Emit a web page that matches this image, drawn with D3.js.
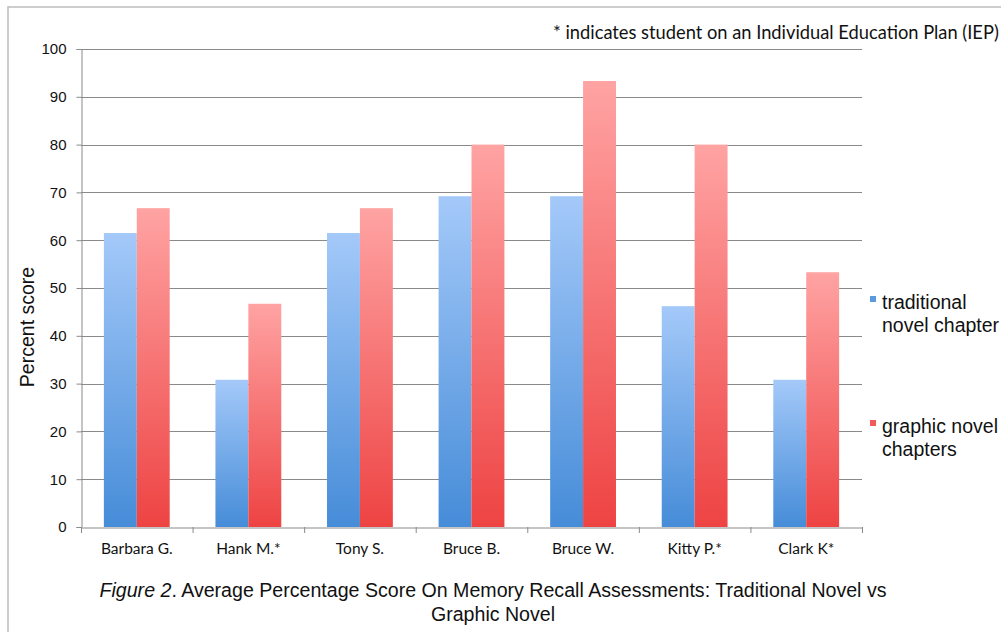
<!DOCTYPE html>
<html><head><meta charset="utf-8">
<script src="https://cdn.jsdelivr.net/npm/d3@7"></script>
<style>body{margin:0;background:#fff;}svg{display:block;}</style>
</head><body>
<svg id="c" width="1001" height="632"></svg>
<script>
const categories = ["Barbara G.","Hank M.*","Tony S.","Bruce B.","Bruce W.","Kitty P.*","Clark K*"];
const traditional = [61.5,30.8,61.5,69.2,69.2,46.2,30.8];
const graphic = [66.7,46.7,66.7,80,93.3,80,53.3];
const seriesNames = [["traditional","novel chapter"],["graphic novel","chapters"]];
const yTicks = [0,10,20,30,40,50,60,70,80,90,100];

const svg = d3.select("#c");
const L=81,R=862,T=49,B=527;
const x = d3.scaleBand().domain(categories).range([L,R]).paddingInner(0.41).paddingOuter(0.205);
const x1 = d3.scaleBand().domain([0,1]).range([0,x.bandwidth()]);
const y = d3.scaleLinear().domain([0,100]).range([B,T]);

const defs = svg.append("defs");
function grad(id,top,bot){
  const g=defs.append("linearGradient").attr("id",id).attr("x1",0).attr("y1",0).attr("x2",0).attr("y2",1);
  g.append("stop").attr("offset","0%").attr("stop-color",top);
  g.append("stop").attr("offset","100%").attr("stop-color",bot);
}
grad("gb","#a4c9f9","#468cd8");
grad("gr","#ffa3a3","#ee4343");

// frame
svg.append("path").attr("d","M8,632V7H1001").attr("fill","none").attr("stroke","#bdbdbd").attr("stroke-width",1.5);

// gridlines
svg.append("g").selectAll("line").data(yTicks.filter(d=>d>0)).join("line")
  .attr("x1",L).attr("x2",R).attr("y1",d=>Math.round(y(d))+0.5).attr("y2",d=>Math.round(y(d))+0.5)
  .attr("stroke","#8a8a8a").attr("stroke-width",1);

// y axis
const ya = svg.append("g").attr("transform",`translate(${L+0.5},0)`)
  .call(d3.axisLeft(y).tickValues(yTicks).tickSize(5).tickPadding(10));
ya.select(".domain").attr("stroke","#8a8a8a");
ya.selectAll(".tick line").attr("stroke","#8a8a8a");
ya.selectAll("text").attr("font-family","Liberation Sans, Arial").attr("font-size",15).attr("fill","#111");

// bars
const data = categories.map((c,i)=>({c,v:[traditional[i],graphic[i]]}));
const gs = svg.append("g").selectAll("g").data(data).join("g").attr("transform",d=>`translate(${x(d.c)},0)`);
gs.selectAll("rect").data(d=>d.v.map((v,k)=>({v,k}))).join("rect")
  .attr("x",d=>x1(d.k)).attr("width",x1.bandwidth())
  .attr("y",d=>y(d.v)).attr("height",d=>B-y(d.v))
  .attr("fill",d=>d.k===0?"url(#gb)":"url(#gr)");

// x axis
const xa = svg.append("g").attr("transform",`translate(0,${B+0.5})`)
  .call(d3.axisBottom(x).tickSize(0).tickPadding(15));
xa.select(".domain").attr("stroke","#8a8a8a");
xa.selectAll("text").attr("font-family","Lato, Open Sans, sans-serif").attr("font-size",15.5).attr("fill","#111");
const bounds = categories.map(c=>x(c)-x.step()*x.paddingInner()/2).concat([R]);
bounds[0]=L;
svg.append("g").selectAll("line").data(bounds).join("line")
  .attr("x1",d=>d+0.5).attr("x2",d=>d+0.5).attr("y1",B).attr("y2",B+6).attr("stroke","#8a8a8a");

// y title
svg.append("text").attr("transform","translate(34,327) rotate(-90)").attr("text-anchor","middle")
  .attr("font-family","Liberation Sans, Arial").attr("font-size",19.5).attr("fill","#111").text("Percent score");

// annotation
svg.append("text").attr("x",553).attr("y",39).attr("font-family","Lato, Open Sans, sans-serif").attr("font-size",18.3).attr("fill","#111")
  .text("* indicates student on an Individual Education Plan (IEP)");

// legend
const legY=[302,426];
const leg = svg.append("g").selectAll("g").data(seriesNames).join("g").attr("transform",(d,i)=>`translate(870,${legY[i]})`);
leg.append("rect").attr("x",0).attr("y",-6).attr("width",6).attr("height",6).attr("fill",(d,i)=>i===0?"#5a9be0":"#ef5a5a");
leg.append("text").attr("x",12).attr("y",7).attr("font-family","Liberation Sans, Arial").attr("font-size",19.5).attr("fill","#111")
  .selectAll("tspan").data(d=>d).join("tspan").attr("x",12).attr("dy",(d,i)=>i===0?0:23).text(d=>d);

// caption
const cap = svg.append("text").attr("x",493).attr("y",597).attr("text-anchor","middle")
  .attr("font-family","Liberation Sans, Arial").attr("font-size",19.6).attr("fill","#111");
cap.append("tspan").attr("font-style","italic").text("Figure 2");
cap.append("tspan").text(". Average Percentage Score On Memory Recall Assessments: Traditional Novel vs");
svg.append("text").attr("x",493).attr("y",621).attr("text-anchor","middle")
  .attr("font-family","Liberation Sans, Arial").attr("font-size",19.6).attr("fill","#111").text("Graphic Novel");
</script>
</body></html>
